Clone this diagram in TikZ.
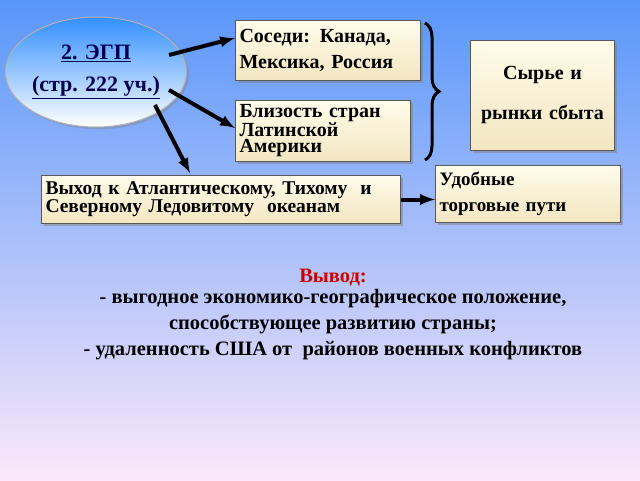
\documentclass[tikz,border=0pt]{standalone}
\usepackage{fontspec}
\setmainfont{Liberation Serif}
\usetikzlibrary{decorations.pathreplacing,shadows,shapes.geometric,positioning}
\definecolor{bgtop}{RGB}{88,150,250}
\definecolor{bgbot}{RGB}{252,232,250}
\definecolor{cream}{RGB}{252,248,215}
\definecolor{creamtop}{RGB}{255,252,235}
\begin{document}
\begin{tikzpicture}[x=1pt,y=-1pt,
  box/.style={draw=gray!70!black,line width=1pt,top color=creamtop,bottom color=cream!85!brown,
    drop shadow={shadow xshift=2pt,shadow yshift=-2pt,opacity=0.5},inner sep=4pt},
  arr/.style={-latex,line width=4pt},
  txt/.style={font=\bfseries\fontsize{20.5}{26}\selectfont,align=center}]
\useasboundingbox (0,0) rectangle (640,480);
\shade[top color=bgtop,bottom color=bgbot] (0,0) rectangle (640,480);
\node[ellipse,minimum width=168,minimum height=110,draw=gray!60,line width=1pt,top color=blue!55!cyan!80,bottom color=white,
  drop shadow={opacity=0.4},align=center,inner sep=0pt,font=\bfseries\fontsize{22}{32}\selectfont,text=blue!30!black] (egp) at (96,72)
  {\underline{2. ЭГП}\\\underline{(стр. 222 уч.)}};
\node[box,minimum width=185,minimum height=60,anchor=north west,align=left,text width=177,font=\bfseries\fontsize{20}{26}\selectfont] (b1) at (235,20) {Соседи: Канада,\\Мексика, Россия};
\node[box,minimum width=175,minimum height=61,anchor=north west,align=left,text width=167,inner sep=2pt,font=\bfseries\fontsize{20}{16}\selectfont] (b2) at (235,100) {Близость стран\\Латинской\\Америки};
\node[box,minimum width=144,minimum height=110,anchor=north west,align=center,text width=136,font=\bfseries\fontsize{20}{40}\selectfont] (b3) at (470,40) {Сырье и\\рынки сбыта};
\node[box,minimum width=359,minimum height=48,anchor=north west,align=left,text width=351,inner sep=3pt,font=\bfseries\fontsize{19.5}{17}\selectfont] (b4) at (41,175) {Выход к Атлантическому, Тихому\ \ и\\Северному Ледовитому\ \ океанам};
\node[box,minimum width=185,minimum height=57,anchor=north west,align=left,text width=177,font=\bfseries\fontsize{19}{26}\selectfont] (b5) at (435,165) {Удобные\\торговые пути};
\coordinate (e1) at (169,55); \coordinate (e2) at (169,90); \coordinate (e3) at (155,105);
\draw[arr] (e1) -- (b1.west |- 0,38);
\draw[arr] (e2) -- (b2.west |- 0,128);
\draw[arr] (e3) -- (190,173);
\draw[arr] (b4.east) -- (b5.west |- b4.east);
\draw[line width=3pt,decorate,decoration={brace,amplitude=14pt}] (425,23) -- (425,160);
\node[txt,text=red!80!black] (v) at (333,278) {Вывод:};
\node[txt,below=-4pt of v] (c) {- выгодное экономико-географическое положение,\\способствующее развитию страны;\\- удаленность США от\ \ районов военных конфликтов};
\end{tikzpicture}
\end{document}
